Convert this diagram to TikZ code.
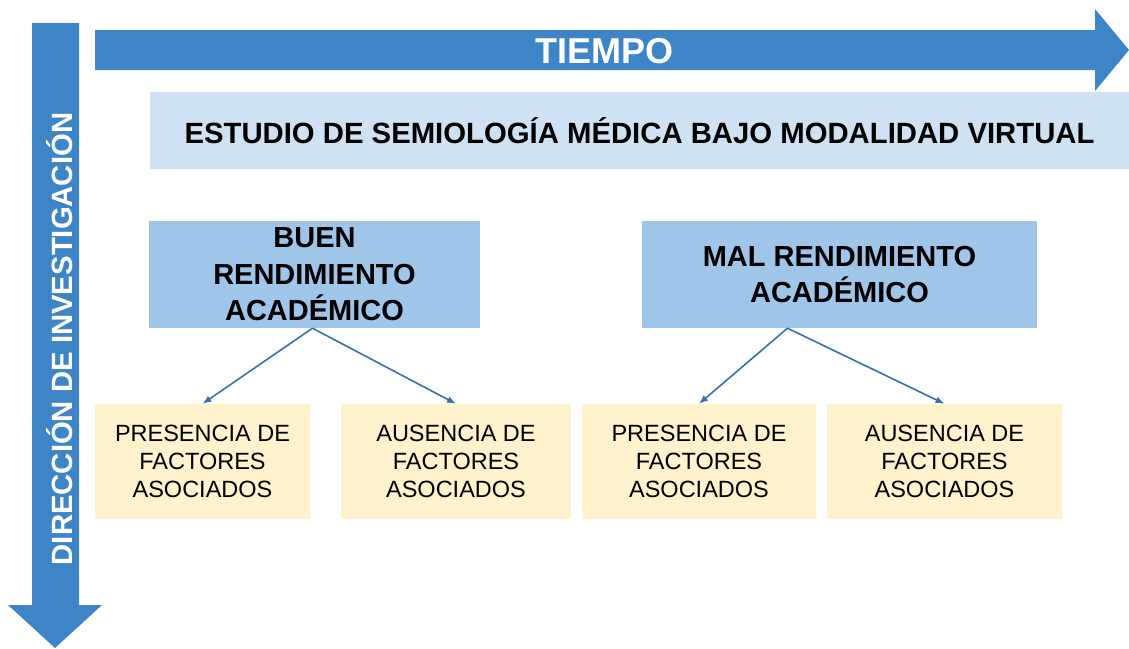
\documentclass[tikz,border=0pt]{standalone}
\usepackage{fontspec}
\setmainfont{Liberation Sans}
\usepackage{tikz}
\usetikzlibrary{positioning,arrows.meta}

\definecolor{azulflecha}{HTML}{3D85C6}
\definecolor{azulclaro}{HTML}{CFE2F3}
\definecolor{azulmedio}{HTML}{9FC5E8}
\definecolor{amarillo}{HTML}{FFF2CC}
\definecolor{azulenlace}{HTML}{3570B0}

\begin{document}
\begin{tikzpicture}[
    x=1pt, y=-1pt,
    >={Latex[length=9pt,width=7pt]},
    every node/.style={align=center, inner sep=0pt},
    rotulo/.style={text=white, font=\bfseries\fontsize{29.3}{34}\selectfont},
    estudio/.style={fill=azulclaro, minimum width=979, minimum height=77, font=\bfseries\fontsize{29.3}{34}\selectfont},
    grupo/.style={fill=azulmedio, minimum height=107, font=\bfseries\fontsize{29}{36.5}\selectfont},
    factor/.style={fill=amarillo, minimum height=115, font=\fontsize{23.5}{28}\selectfont},
    enlace/.style={->, draw=azulenlace, line width=1.6pt}]

    \useasboundingbox (0,0) rectangle (1129,648);

    % flechas grandes
    \fill[azulflecha] (95,30) -- (1095,30) -- (1095,9) -- (1129,50) -- (1095,91) -- (1095,70) -- (95,70) -- cycle;
    \fill[azulflecha] (32,23) -- (79,23) -- (79,605) -- (102,605) -- (55,648) -- (8,605) -- (32,605) -- cycle;
    \node[rotulo, font=\bfseries\fontsize{36}{40}\selectfont, anchor=base] (tiempo) at (604,63) {TIEMPO};
    \node[rotulo, rotate=90, anchor=base] (direccion) at (72,339) {DIRECCIÓN DE INVESTIGACIÓN};

    \node[estudio] (semiologia) at (639.5,130.5) {ESTUDIO DE SEMIOLOGÍA MÉDICA BAJO MODALIDAD VIRTUAL};

    \node[grupo, minimum width=331] (buen) at (314.5,274.5) {BUEN\\RENDIMIENTO\\ACADÉMICO};
        \node[factor, minimum width=215] (presbuen) at (202.5,461.5) {PRESENCIA DE\\FACTORES\\ASOCIADOS};
        \node[factor, minimum width=230] (ausbuen) at (456,461.5) {AUSENCIA DE\\FACTORES\\ASOCIADOS};

    \node[grupo, minimum width=395] (mal) at (839.5,274.5) {MAL RENDIMIENTO\\ACADÉMICO};
        \node[factor, minimum width=234] (presmal) at (699,461.5) {PRESENCIA DE\\FACTORES\\ASOCIADOS};
        \node[factor, minimum width=235] (ausmal) at (944.5,461.5) {AUSENCIA DE\\FACTORES\\ASOCIADOS};

    \draw[enlace] ([xshift=-2]buen.south) -- (presbuen.north);
    \draw[enlace] ([xshift=-2]buen.south) -- (ausbuen.north);
    \draw[enlace] ([xshift=-52]mal.south) -- (presmal.north);
    \draw[enlace] ([xshift=-52]mal.south) -- (ausmal.north);

\end{tikzpicture}
\end{document}
